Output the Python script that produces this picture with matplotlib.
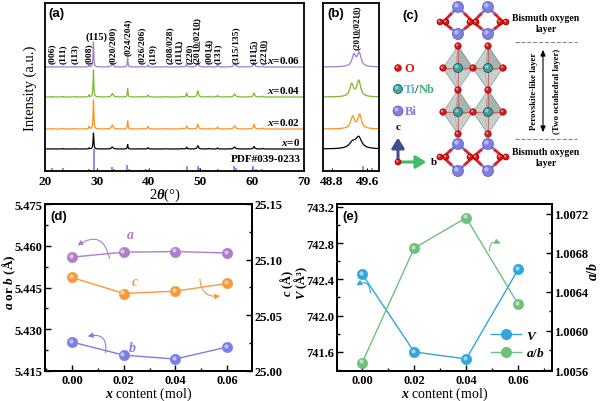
import numpy as np
import matplotlib.pyplot as plt
from matplotlib import transforms
from matplotlib.patches import Circle, Polygon, FancyArrowPatch
from matplotlib.lines import Line2D
from matplotlib.ticker import MultipleLocator, FormatStrFormatter

plt.rcParams['font.family'] = ['Liberation Serif', 'DejaVu Serif']
plt.rcParams['font.weight'] = 'bold'
plt.rcParams['mathtext.fontset'] = 'custom'
plt.rcParams['mathtext.rm'] = 'Liberation Serif:bold'
plt.rcParams['mathtext.it'] = 'Liberation Serif:italic:bold'
plt.rcParams['mathtext.bf'] = 'Liberation Serif:bold'
plt.rcParams['axes.linewidth'] = 1.3

# ---------------- data ----------------
# XRD peaks (2theta, deg) and heights, a.u.
peak_pos = [21.3, 23.5, 25.8, 28.5, 29.35, 33.0, 35.95, 38.6, 39.9, 43.6,
            46.4, 47.35, 49.5, 51.6, 53.3, 56.6, 60.35, 62.0]
peak_gam = [0.08, 0.08, 0.08, 0.08, 0.08, 0.2, 0.08, 0.1, 0.12, 0.1,
            0.1, 0.1, 0.15, 0.1, 0.1, 0.2, 0.15, 0.1]
int_006 = [0.5, 0.6, 0.5, 1.5, 25, 3.0, 9.0, 0.5, 2.0, 0.5, 0.6, 3.0, 5.5, 0.8, 1.8, 4.0, 5.0, 1.0]
int_004 = [0.5, 0.6, 0.5, 2.0, 27, 3.5, 8.5, 0.5, 2.0, 0.5, 0.6, 4.0, 6.0, 0.8, 1.5, 3.0, 4.0, 1.0]
int_002 = [0.6, 0.8, 0.6, 2.5, 29, 4.0, 8.0, 0.6, 2.5, 0.5, 0.8, 3.0, 4.5, 0.8, 2.0, 3.3, 4.5, 1.0]
int_000 = [0.3, 0.5, 0.3, 1.0, 16, 2.0, 4.5, 0.3, 1.2, 0.3, 0.5, 1.8, 3.3, 0.5, 1.0, 2.0, 2.5, 0.5]
sample_labels = [r"$x$=0.06", r"$x$=0.04", r"$x$=0.02", r"$x$=0"]

# standard card PDF#039-0233
pdf_pos = [21.3, 23.5, 25.8, 28.5, 29.4, 33.0, 33.4, 34.0, 35.9, 36.3, 38.1, 38.6,
           39.5, 40.0, 43.5, 44.2, 46.3, 47.4, 49.5, 49.7, 51.6, 53.0, 53.4,
           56.5, 56.8, 58.6, 60.2, 60.7, 61.9, 63.2, 68.0, 69.0]
pdf_int = [2.7, 3.0, 1.5, 2.5, 22, 4.0, 2.0, 1.5, 6.0, 2.0, 1.0, 1.5,
           2.5, 2.5, 1.2, 1.2, 1.5, 5.0, 5.0, 3.0, 1.5, 1.5, 1.8,
           5.0, 3.0, 1.5, 5.0, 2.0, 2.0, 1.5, 1.5, 1.5]

U = '\u0332'
def ul(s):
    return ''.join(ch + U for ch in s)

hkl_labels = ["(006)", "(111)", "(113)", "(008)", "(020/200)", "(024/204)",
              "(026/206)", "(119)", "(208/028)", "(11" + ul("11") + ")", "(220)",
              "(20" + ul("10") + "/02" + ul("10") + ")", "(00" + ul("14") + ")",
              "(131)", "(315/135)", "(11" + ul("15") + ")", "(22" + ul("10") + ")"]
hkl_pos = [21.35, 23.5, 25.8, 28.5, 33.1, 36.0, 38.7, 40.8, 44.1, 45.9, 48.0,
           49.4, 51.7, 53.4, 56.9, 60.3, 62.3]

# panel (b): (2 0 10 / 0 2 10) region
zoom_pos = {
    "0.06": [49.30, 49.42],
    "0.04": [49.25, 49.41],
    "0.02": [49.27, 49.43],
    "0": [49.27, 49.41],
}
zoom_int = {
    "0.06": [11.5, 13.5],
    "0.04": [12.5, 16.0],
    "0.02": [12.0, 14.0],
    "0": [6.0, 11.0],
}

# lattice parameters
x_content = [0.00, 0.02, 0.04, 0.06]
lat_a = [5.4559, 5.4577, 5.4579, 5.4574]
lat_b = [5.4254, 5.4207, 5.4193, 5.4236]
lat_c = [25.0840, 25.0696, 25.0717, 25.0786]
cell_V = [742.457, 741.600, 741.523, 742.510]
ratio_ab = [1.005675, 1.006848, 1.007159, 1.006273]

# crystal structure sketch (panel c, pixel units)
bi_sites = [(458, 8), (488, 8), (458, 35), (488, 35),
            (458, 145), (488, 145), (458, 172), (488, 172)]
o_bi_sites = [(443, 23), (473, 23), (503, 23), (443, 158), (473, 158), (503, 158)]
oct_centers = [(458, 69), (488, 69), (458, 113), (488, 113)]

# ---------------- style ----------------
col_pat = ['#9b7fd6', '#7bb92e', '#f7941d', 'black']
col_pdf = '#6b6bf0'
offsets = [104, 74, 42, 22]
col_a, col_c, col_b = '#b27ccd', '#f89a3a', '#7d7de8'
col_V, col_ab = '#2ea7dd', '#6cc27c'

fig = plt.figure(figsize=(6, 4.02), dpi=100)


def pattern(tt, pos, amp, gam):
    y = np.zeros_like(tt)
    for p, a, g in zip(pos, amp, gam):
        y += a / (1 + ((tt - p) / g) ** 2)
    return y


def balls(ax, x, y, color, ms=7.5):
    ax.plot(x, y, 'o', ms=ms, mfc=color, mec=color, mew=0.4, zorder=4)
    hl = transforms.offset_copy(ax.transData, fig=fig, x=-1.3, y=1.3, units='dots')
    ax.plot(x, y, 'o', ms=ms * 0.4, mfc='white', mec='none', alpha=0.55,
            transform=hl, zorder=5)


# ---------------- (a) ----------------
ax = fig.add_axes([45 / 600, 1 - 172 / 402, 259 / 600, 168 / 402])
tt = np.linspace(20, 70, 6001)
for ints, off, col, lab in zip([int_006, int_004, int_002, int_000], offsets, col_pat, sample_labels):
    ax.plot(tt, off + pattern(tt, peak_pos, ints, peak_gam), color=col, lw=0.9)
    ax.text(69.3, off + 1.5, lab, ha='right', va='bottom', fontsize=8)
ax.vlines(pdf_pos, 0, pdf_int, color=col_pdf, lw=1.1)
ax.text(69.3, 12, "PDF#039-0233", ha='right', va='center', fontsize=8)
for lab, p in zip(hkl_labels, hkl_pos):
    yb = 116 if lab == "(024/204)" else 108
    ax.text(p, yb, lab, rotation=90, ha='center', va='bottom', fontsize=6.8)
ax.text(30.0, 135, "(115)", ha='center', va='center', fontsize=7.5)
ax.set_xlim(20, 70)
ax.set_ylim(0, 168)
ax.set_yticks([])
ax.set_xticks([20, 30, 40, 50, 60, 70])
ax.tick_params(axis='x', direction='in', length=2.5, labelsize=9.5, pad=3)
ax.set_ylabel("Intensity (a.u.)", fontsize=10.5)
ax.yaxis.set_label_coords(-0.031, 0.5)
ax.set_xlabel(r"2$\theta$(°)", fontsize=10.5)
ax.xaxis.set_label_coords(0.463, -0.085)

# ---------------- (b) ----------------
axb = fig.add_axes([323 / 600, 1 - 172 / 402, 56 / 600, 168 / 402])
tb = np.linspace(48.5, 50.0, 3001)
for key, off, col in zip(["0.06", "0.04", "0.02", "0"], offsets, col_pat):
    gam = [0.09, 0.08] if key == "0" else [0.05, 0.05]
    axb.plot(tb, off + pattern(tb, zoom_pos[key], zoom_int[key], gam), color=col, lw=0.9)
axb.vlines(pdf_pos, 0, pdf_int, color=col_pdf, lw=1.1)
axb.text(49.37, 122, "(20" + ul("10") + "/02" + ul("10") + ")", rotation=90,
         ha='center', va='bottom', fontsize=6.5)
axb.set_xlim(48.6, 49.87)
axb.set_ylim(0, 168)
axb.set_yticks([])
axb.set_xticks([48.8, 49.6])
axb.xaxis.set_major_formatter(FormatStrFormatter('%.1f'))
axb.tick_params(axis='x', direction='in', length=2.5, labelsize=9.5, pad=3)

# ---------------- (c) ----------------
axc = fig.add_axes([390 / 600, 1 - 185 / 402, 210 / 600, 185 / 402])
axc.set_xlim(390, 600)
axc.set_ylim(185, 0)
axc.axis('off')


def atom(x, y, r, fc, ec, z=6):
    axc.add_patch(Circle((x, y), r, fc=fc, ec=ec, lw=0.5, zorder=z))
    axc.add_patch(Circle((x - r * 0.3, y - r * 0.3), r * 0.4, fc='white', ec='none',
                         alpha=0.45, zorder=z + 0.1))


# Bi-O layers bonds
for (bx, by) in bi_sites:
    for (ox, oy) in o_bi_sites:
        if abs(ox - bx) == 15 and abs(oy - by) < 16:
            mx, my = (bx + ox) / 2, (by + oy) / 2
            axc.plot([bx, mx], [by, my], color='#7f7fd8', lw=2, zorder=2)
            axc.plot([mx, ox], [my, oy], color='#e02020', lw=2, zorder=2)
# octahedra
hw, hh = 15, 22
for (cx, cy) in oct_centers:
    top, bot = (cx, cy - hh), (cx, cy + hh)
    left, right = (cx - hw, cy), (cx + hw, cy)
    front = (cx - 3, cy + 4)
    axc.add_patch(Polygon([top, left, bot, right], closed=True, fc='#a3b3ab',
                          ec='#707d77', lw=0.6, alpha=0.6, zorder=3))
    axc.add_patch(Polygon([top, front, right], closed=True, fc='#8a9b93',
                          ec='#707d77', lw=0.4, alpha=0.5, zorder=3))
    axc.add_patch(Polygon([bot, front, left], closed=True, fc='#c2cec8',
                          ec='#707d77', lw=0.4, alpha=0.5, zorder=3))
    for v in [top, bot, left, right]:
        axc.plot([cx, v[0]], [cy, v[1]], color='#d05858', lw=0.8, alpha=0.8, zorder=3.5)
    atom(cx, cy, 4.5, '#3a9e9e', '#1f3f4f')
# O atoms
o_oct = set()
for (cx, cy) in oct_centers:
    for v in [(cx, cy - hh), (cx, cy + hh), (cx - hw, cy), (cx + hw, cy)]:
        o_oct.add(v)
for (ox, oy) in o_oct:
    atom(ox, oy, 3.2, '#e01515', '#8a0000')
for (ox, oy) in o_bi_sites:
    atom(ox - 3, oy, 3.0, '#e01515', '#8a0000')
    atom(ox + 3, oy, 3.0, '#e01515', '#8a0000')
for (bx, by) in bi_sites:
    atom(bx, by, 5.5, '#7f7fe0', '#5a5ab0')

# legend of atoms
atom(398, 69, 3.3, '#e01515', '#8a0000')
axc.text(404, 69, "O", color='#e01515', fontsize=9, va='center')
atom(398, 90, 4.5, '#3aaaa8', '#1f3f4f')
axc.text(404, 90, "Ti", color='#55b5e5', fontsize=9, va='center')
axc.text(414.5, 90, "/", color='#333333', fontsize=9, va='center')
axc.text(418.5, 90, "Nb", color='#3cb371', fontsize=9, va='center')
atom(398, 112, 5.0, '#7f7fe0', '#5a5ab0')
axc.text(405, 112, "Bi", color='#7f7fe0', fontsize=9, va='center')

axc.add_patch(FancyArrowPatch((398, 163), (398, 136), arrowstyle='-|>,head_width=2.5,head_length=4',
                              mutation_scale=1.5, lw=2.2, color='#3d4d8e', zorder=6))
axc.add_patch(FancyArrowPatch((398, 163), (429, 163), arrowstyle='-|>,head_width=2.5,head_length=4',
                              mutation_scale=1.5, lw=2.2, color='#44bb66', zorder=6))
atom(398, 163, 3.0, '#e01515', '#8a0000', z=7)
axc.text(398, 128, "c", fontsize=8, ha='center', va='center')
axc.text(431, 163, "b", fontsize=8, ha='left', va='center')

axc.plot([515, 577], [43, 43], ls='--', color='#888888', lw=0.8)
axc.plot([515, 577], [140, 140], ls='--', color='#888888', lw=0.8)
axc.annotate('', xy=(543, 48), xytext=(543, 136),
             arrowprops=dict(arrowstyle='<|-|>,head_width=0.15,head_length=0.35', lw=0.8, color='black'))
axc.text(546, 24, "Bismuth oxygen\nlayer", ha='center', va='center', fontsize=7, linespacing=1.2)
axc.text(546, 158, "Bismuth oxygen\nlayer", ha='center', va='center', fontsize=7, linespacing=1.2)
axc.text(534, 91, "Perovskite-like layer", rotation=90, ha='center', va='center', fontsize=6.3)
axc.text(557, 91, "(Two octahedral layer)", rotation=90, ha='center', va='center', fontsize=6.3)


def style_ax(a, x_lim):
    a.set_xlim(*x_lim)
    a.set_xticks(x_content)
    a.xaxis.set_major_formatter(FormatStrFormatter('%.2f'))
    a.xaxis.set_minor_locator(MultipleLocator(0.01))
    a.tick_params(which='both', direction='in', labelsize=9, width=1)
    a.tick_params(which='major', length=4)
    a.tick_params(which='minor', length=2)
    a.tick_params(axis='x', pad=2)
    a.tick_params(axis='y', pad=2)


def style_twin(a):
    a.tick_params(which='both', direction='in', labelsize=9, width=1, pad=1.5)
    a.tick_params(which='major', length=4)
    a.tick_params(which='minor', length=2)


# ---------------- (d) ----------------
axd = fig.add_axes([45 / 600, 1 - 372 / 402, 207 / 600, 167 / 402])
axd.plot(x_content, lat_a, color=col_a, lw=1)
axd.plot(x_content, lat_b, color=col_b, lw=1)
balls(axd, x_content, lat_a, col_a)
balls(axd, x_content, lat_b, col_b)
style_ax(axd, (-0.0105, 0.0697))
axd.set_ylim(5.415, 5.475)
axd.set_yticks(np.arange(5.415, 5.4751, 0.015))
axd.yaxis.set_minor_locator(MultipleLocator(0.0075))
axd.yaxis.set_major_formatter(FormatStrFormatter('%.3f'))
axd.tick_params(axis='y', which='both', right=False)
fig.text(9 / 600, 1 - 282 / 402, r"$a$ or $b$ (Å)", fontsize=9.5, rotation=90,
         ha='center', va='center')
axd.set_xlabel(r"$x$ content (mol)", fontsize=10)
axd.xaxis.set_label_coords(0.5, -0.084)
axd.text(0.0225, 5.4639, r"$a$", color=col_a, fontsize=10, ha='center', va='center')
axd.text(0.0245, 5.4472, r"$c$", color=col_c, fontsize=10, ha='center', va='center')
axd.text(0.0232, 5.4236, r"$b$", color=col_b, fontsize=10, ha='center', va='center')
axd.add_patch(FancyArrowPatch((0.0147, 5.4544), (0.0012, 5.4595), connectionstyle='arc3,rad=0.8',
                              arrowstyle='-|>,head_width=1.5,head_length=3', lw=0.8, color=col_a))
axd.add_patch(FancyArrowPatch((0.0128, 5.4206), (0.005, 5.4272), connectionstyle='arc3,rad=0.8',
                              arrowstyle='-|>,head_width=1.5,head_length=3', lw=0.8, color=col_b))
axd2 = axd.twinx()
axd2.plot(x_content, lat_c, color=col_c, lw=1)
balls(axd2, x_content, lat_c, col_c)
axd2.set_ylim(25.00, 25.15)
axd2.set_yticks([25.00, 25.05, 25.10, 25.15])
axd2.yaxis.set_minor_locator(MultipleLocator(0.025))
axd2.yaxis.set_major_formatter(FormatStrFormatter('%.2f'))
style_twin(axd2)
fig.text(287 / 600, 1 - 283 / 402, r"$c$ (Å)", fontsize=9, rotation=90,
         ha='center', va='center')
axd2.add_patch(FancyArrowPatch((0.0495, 25.085), (0.0584, 25.0678), connectionstyle='arc3,rad=0.6',
                               arrowstyle='-|>,head_width=1.5,head_length=3', lw=0.8, color=col_c))

# ---------------- (e) ----------------
axe = fig.add_axes([337 / 600, 1 - 372 / 402, 215 / 600, 167 / 402])
axe.plot(x_content, cell_V, color=col_V, lw=1)
balls(axe, x_content, cell_V, col_V)
style_ax(axe, (-0.0097, 0.073))
axe.set_ylim(741.39, 743.23)
axe.yaxis.set_major_locator(MultipleLocator(0.4))
axe.yaxis.set_minor_locator(MultipleLocator(0.2))
axe.yaxis.set_major_formatter(FormatStrFormatter('%.1f'))
axe.tick_params(axis='y', which='both', right=False)
fig.text(301 / 600, 1 - 283 / 402, r"$V$ (Å³)", fontsize=9, rotation=90,
         ha='center', va='center')
axe.set_xlabel(r"$x$ content (mol)", fontsize=10)
axe.xaxis.set_label_coords(0.5, -0.084)
axe.add_patch(FancyArrowPatch((0.0032, 742.22), (-0.0032, 742.32), connectionstyle='arc3,rad=0.9',
                              arrowstyle='-|>,head_width=1.5,head_length=3', lw=0.8, color=col_V))
axe2 = axe.twinx()
axe2.plot(x_content, ratio_ab, color=col_ab, lw=1)
balls(axe2, x_content, ratio_ab, col_ab)
axe2.set_ylim(1.00559, 1.0073)
axe2.yaxis.set_major_locator(MultipleLocator(0.0004))
axe2.yaxis.set_minor_locator(MultipleLocator(0.0002))
axe2.yaxis.set_major_formatter(FormatStrFormatter('%.4f'))
style_twin(axe2)
axe2.set_ylabel(r"$a/b$", fontsize=10, rotation=90)
axe2.yaxis.set_label_coords(1.158, 0.6)
axe2.add_patch(FancyArrowPatch((0.049, 1.00679), (0.0542, 1.006885), connectionstyle='arc3,rad=-0.9',
                               arrowstyle='-|>,head_width=1.5,head_length=3', lw=0.8, color=col_ab))
handles = [Line2D([0], [0], color=col_V, lw=1, marker='o', ms=7, mfc=col_V, mec=col_V),
           Line2D([0], [0], color=col_ab, lw=1, marker='o', ms=7, mfc=col_ab, mec=col_ab)]
axe2.legend(handles, [r"$V$", r"$a/b$"], loc='lower left', bbox_to_anchor=(0.66, 0.0),
            frameon=False, fontsize=9.5, handlelength=2.3, handletextpad=0.4, labelspacing=0.35)

# panel letters
for lab, px, py in [("(a)", 48, 14), ("(b)", 327, 14), ("(c)", 402, 16),
                    ("(d)", 50, 217), ("(e)", 342, 217)]:
    fig.text(px / 600, 1 - py / 402, lab, fontsize=9.5, family='Liberation Sans',
             fontweight='bold', ha='left', va='center')

fig.savefig('out.png', dpi=100)
